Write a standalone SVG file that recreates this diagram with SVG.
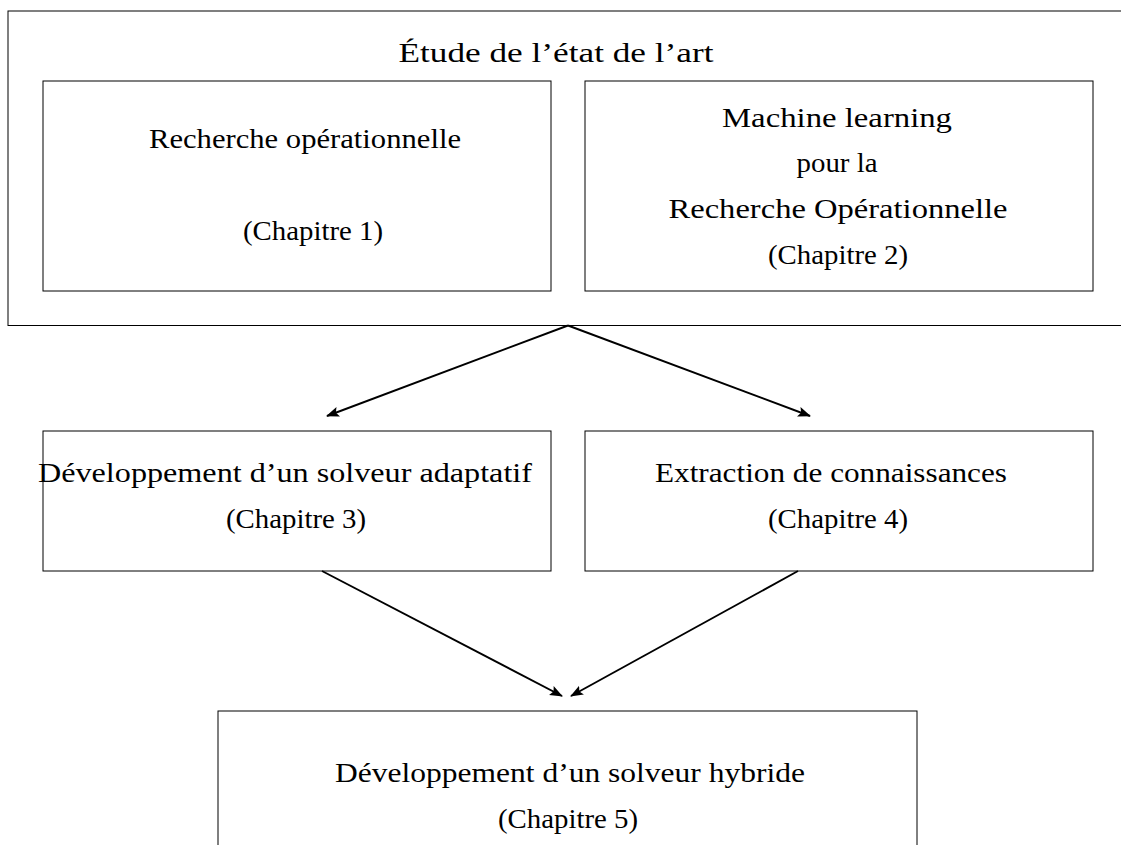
<svg xmlns="http://www.w3.org/2000/svg" width="1121" height="845" viewBox="0 0 1121 845">
<style>
  .box{fill:none;stroke:#000;stroke-width:1}
  .t{font-family:"Liberation Serif","Times New Roman",serif;font-size:27px;fill:#000;text-anchor:middle}
  .edge{stroke:#000;stroke-width:1.9;fill:none;marker-end:url(#ah)}
</style>
<defs>
  <marker id="ah" markerWidth="14" markerHeight="12" refX="12" refY="5" orient="auto" markerUnits="userSpaceOnUse">
    <path d="M0,0 L13,5 L0,10 L2.5,5 z" fill="#000"/>
  </marker>
</defs>
<rect width="1121" height="845" fill="#fff"/>
<g id="etat-art">
  <rect class="box" x="8" y="11" width="1130" height="314.5"/>
  <text class="t" x="556" y="62" textLength="315" lengthAdjust="spacingAndGlyphs">Étude de l’état de l’art</text>
</g>
<g id="chap1">
  <rect class="box" x="43" y="81" width="508" height="210"/>
  <text class="t" x="305" y="148" textLength="312" lengthAdjust="spacingAndGlyphs">Recherche opérationnelle</text>
  <text class="t" x="313" y="240" textLength="140" lengthAdjust="spacingAndGlyphs">(Chapitre 1)</text>
</g>
<g id="chap2">
  <rect class="box" x="585" y="81" width="508" height="210"/>
  <text class="t" x="837" y="127" textLength="230" lengthAdjust="spacingAndGlyphs">Machine learning</text>
  <text class="t" x="837" y="172" textLength="81" lengthAdjust="spacingAndGlyphs">pour la</text>
  <text class="t" x="838" y="218" textLength="339" lengthAdjust="spacingAndGlyphs">Recherche Opérationnelle</text>
  <text class="t" x="838" y="264" textLength="140" lengthAdjust="spacingAndGlyphs">(Chapitre 2)</text>
</g>
<g id="chap3">
  <rect class="box" x="43" y="431" width="508" height="140"/>
  <text class="t" x="285" y="482" textLength="494" lengthAdjust="spacingAndGlyphs">Développement d’un solveur adaptatif</text>
  <text class="t" x="296" y="528" textLength="140" lengthAdjust="spacingAndGlyphs">(Chapitre 3)</text>
</g>
<g id="chap4">
  <rect class="box" x="585" y="431" width="508" height="140"/>
  <text class="t" x="831" y="482" textLength="352" lengthAdjust="spacingAndGlyphs">Extraction de connaissances</text>
  <text class="t" x="838" y="528" textLength="140" lengthAdjust="spacingAndGlyphs">(Chapitre 4)</text>
</g>
<g id="chap5">
  <rect class="box" x="218" y="711" width="699" height="200"/>
  <text class="t" x="570" y="782" textLength="470" lengthAdjust="spacingAndGlyphs">Développement d’un solveur hybride</text>
  <text class="t" x="568" y="828" textLength="140" lengthAdjust="spacingAndGlyphs">(Chapitre 5)</text>
</g>
<g id="connectors">
  <line class="edge" x1="568" y1="325.5" x2="327" y2="416"/>
  <line class="edge" x1="568" y1="325.5" x2="810" y2="416"/>
  <line class="edge" x1="322" y1="571" x2="562" y2="696"/>
  <line class="edge" x1="798" y1="571" x2="571" y2="696"/>
</g>
</svg>
